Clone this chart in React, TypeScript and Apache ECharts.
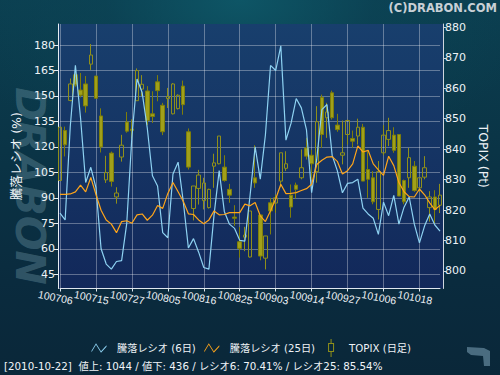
import React, { useEffect, useRef } from 'react';
import * as echarts from 'echarts';

const FONT = "'DejaVu Sans', 'Noto Sans CJK JP', sans-serif";

const dates = ['100706','100707','100708','100709','100712','100713','100714','100715','100716','100720','100721','100722','100723','100726','100727','100728','100729','100730','100802','100803','100804','100805','100806','100809','100810','100811','100812','100813','100816','100817','100818','100819','100820','100823','100824','100825','100826','100827','100830','100831','100901','100902','100903','100906','100907','100908','100909','100910','100913','100914','100915','100916','100917','100921','100922','100924','100927','100928','100929','100930','101001','101004','101005','101006','101007','101008','101012','101013','101014','101015','101018','101019','101020','101021','101022'];

const ratio6 = [81, 77, 132, 168, 137, 99, 108, 96, 60, 51, 48, 52.5, 53, 75, 126, 160, 152, 131, 103, 97, 69.5, 66.5, 104, 111, 88, 60.5, 66, 58, 49, 48, 80, 106, 82, 74.5, 72, 65, 64.5, 91, 120, 101, 127, 168, 165, 179.5, 124, 134, 148.5, 143, 130, 93, 113, 142, 145, 115, 106, 93, 98.5, 99, 101, 84, 80.5, 78, 68.5, 87.5, 79.5, 91.5, 74.5, 84.5, 90.5, 74.5, 63.5, 73.5, 80.5, 74, 70.41];

const ratio25 = [92, 92, 92.3, 93.5, 97.5, 93.5, 102, 92, 82.7, 77, 74.5, 69.5, 76, 76.5, 75, 80, 80.5, 76.8, 79.8, 85.5, 83.8, 92.6, 99, 93.6, 88, 80.6, 80.2, 77, 74.7, 77, 82.3, 80, 80.2, 81.3, 81.3, 81.3, 86.3, 85.3, 87.3, 79.4, 76, 82.4, 89.3, 98, 92.5, 92.6, 93.1, 94.3, 95.4, 98, 109.6, 112.1, 114, 114.3, 111.5, 104, 106, 110, 120.6, 117, 118, 110, 106.5, 103.2, 114.5, 109, 99, 93.6, 90.7, 90.5, 95.2, 91.8, 87, 83, 85.54];

const topixOpen = [829.7, 846.1, 856.0, 864.4, 859.4, 861.4, 867.9, 864.0, 850.9, 829.9, 838.7, 824.3, 837.4, 848.9, 846.6, 855.9, 859.7, 859.1, 851.6, 862.1, 854.4, 856.6, 851.6, 853.3, 860.7, 845.7, 820.5, 827.1, 823.1, 820.8, 834.4, 835.2, 834.1, 826.8, 817.7, 809.6, 811.1, 804.6, 830.6, 818.4, 804.2, 822.4, 822.3, 829.5, 833.7, 824.9, 828.2, 830.6, 840.4, 838.0, 832.6, 857.0, 850.3, 858.5, 847.9, 838.0, 844.8, 843.5, 844.3, 847.2, 833.3, 830.6, 820.2, 838.8, 843.2, 844.6, 844.8, 829.7, 830.6, 834.4, 827.3, 830.8, 820.8, 824.3, 821.6];
const topixClose = [847.2, 841.4, 861.4, 861.1, 857.7, 854.2, 870.9, 856.7, 840.7, 832.3, 829.4, 825.6, 841.3, 845.9, 846.1, 865.8, 861.3, 849.4, 850.7, 859.2, 845.7, 857.3, 861.4, 857.7, 854.6, 834.1, 827.9, 831.5, 828.9, 826.8, 835.5, 844.3, 829.7, 824.9, 817.3, 807.4, 811.8, 819.7, 828.9, 804.9, 811.5, 819.7, 824.0, 838.8, 835.2, 821.0, 826.8, 833.9, 837.7, 835.2, 849.0, 844.8, 852.2, 850.3, 846.4, 838.8, 849.4, 842.6, 847.2, 829.5, 830.1, 822.7, 832.6, 844.6, 846.1, 839.6, 824.6, 822.7, 837.2, 826.4, 830.6, 833.9, 824.3, 820.2, 824.9];
const topixLow = [829.7, 837.6, 855.7, 860.5, 857.0, 852.0, 866.0, 856.7, 838.9, 828.9, 827.7, 822.1, 835.9, 845.4, 843.5, 855.9, 857.4, 847.9, 848.6, 855.7, 844.6, 853.5, 851.4, 853.0, 851.3, 833.3, 816.6, 821.8, 820.2, 820.5, 827.3, 835.0, 829.3, 822.4, 814.8, 804.4, 806.5, 804.4, 827.3, 803.5, 800.5, 812.0, 819.1, 827.5, 832.8, 817.5, 823.8, 830.1, 836.6, 830.0, 829.0, 840.4, 843.7, 849.7, 845.7, 835.0, 841.5, 840.4, 841.5, 829.5, 824.0, 821.9, 816.9, 838.0, 841.0, 838.8, 824.6, 821.9, 827.3, 826.0, 826.0, 830.1, 816.2, 815.5, 819.0];
const topixHigh = [847.2, 847.4, 863.2, 866.1, 865.0, 864.0, 874.5, 864.0, 853.4, 837.8, 839.2, 827.5, 844.7, 852.2, 849.8, 866.5, 864.3, 860.7, 859.0, 864.3, 855.2, 860.1, 861.7, 858.0, 862.5, 846.8, 827.9, 833.2, 830.6, 827.0, 838.5, 844.3, 838.0, 828.6, 821.6, 814.4, 814.5, 819.7, 841.3, 818.4, 811.5, 824.0, 825.1, 838.8, 839.3, 828.4, 829.0, 839.9, 843.7, 839.8, 854.1, 857.9, 855.2, 859.2, 851.6, 849.4, 849.7, 846.1, 850.0, 848.3, 839.3, 832.8, 836.1, 847.9, 850.3, 847.2, 844.8, 830.0, 840.4, 836.1, 830.6, 837.7, 826.2, 826.5, 828.6];

const leftTicks = [45, 60, 75, 90, 105, 120, 135, 150, 165, 180];
const rightTicks = [800, 810, 820, 830, 840, 850, 860, 870, 880];

const seriesNames = ['騰落レシオ (6日)', '騰落レシオ (25日)', 'TOPIX (日足)'];
const statusText = '[2010-10-22]  値上: 1044 / 値下: 436 / レシオ6: 70.41% / レシオ25: 85.54%';

const BLUE = '#8ed2f2';
const ORANGE = '#ffa51a';
const OLIVE_UP = '#8f8f1a';
const OLIVE_DOWN = '#a0a01a';
const OLIVE_DOWN_BORDER = '#7e7e0a';
const TXT = '#eef2f6';
const GRIDLINE = 'rgba(255,255,255,0.33)';

const ZIG = 'path://M0,0L0.01,0Z M20,18L19.99,18Z M2.5,11.7L7,4.2L12,12.2L17.5,6.2L17.5,7.8L12,13.8L7,5.8L2.5,13.3Z';
const CANDLE = 'path://M0,0L0.01,0Z M20,18L19.99,18Z M9.5,0H10.5V4.5H9.5Z M9.5,12.5H10.5V18H9.5Z M7,4H13V5H7Z M7,12H13V13H7Z M7,4H8V13H7Z M12,4H13V13H12Z';

export default function App() {
  const ref = useRef<HTMLDivElement>(null);
  useEffect(() => {
    const chart = echarts.init(ref.current!, null, { renderer: 'svg', width: 500, height: 375 });
    const candles = dates.map((_, i) => [topixOpen[i], topixClose[i], topixLow[i], topixHigh[i]]);
    const option: any = {
      animation: false,
      textStyle: { fontFamily: FONT },
      grid: { left: 60, right: 60, top: 24, bottom: 86.5, containLabel: false, outerBoundsMode: 'none' },
      legend: {
        top: 334,
        left: 'center',
        itemWidth: 20,
        itemHeight: 18,
        itemGap: 6,
        textStyle: { color: TXT, fontSize: 10.2, fontFamily: FONT, padding: [0, 0, 0, 3] },
        data: [
          { name: seriesNames[0], icon: ZIG, itemStyle: { color: BLUE, borderWidth: 0 } },
          { name: seriesNames[1], icon: ZIG, itemStyle: { color: ORANGE, borderWidth: 0 } },
          { name: seriesNames[2], icon: CANDLE, itemStyle: { color: OLIVE_UP, borderWidth: 0, borderColor: 'transparent' } },
        ],
      },
      xAxis: {
        type: 'category',
        data: dates,
        boundaryGap: false,
        axisLine: { show: true, lineStyle: { color: '#dfe6ee', width: 1 } },
        axisTick: { show: true, interval: 6, length: 3, lineStyle: { color: '#dfe6ee' } },
        axisLabel: {
          interval: 6, rotate: -11, align: 'center', verticalAlign: 'top', margin: 4,
          color: TXT, fontSize: 10.5, fontFamily: "'Liberation Sans', sans-serif", padding: [0, 7, 0, 0],
        },
        splitLine: { show: true, interval: 6, lineStyle: { color: GRIDLINE, width: 1 } },
      },
      yAxis: [
        {
          type: 'value', position: 'left', min: 36.6, max: 192.4, offset: 2,
          name: '騰落レシオ (%)', nameLocation: 'middle', nameRotate: 90, nameGap: 31,
          nameTextStyle: { color: TXT, fontSize: 12.5, fontFamily: FONT },
          axisLine: { show: true, lineStyle: { color: '#e6ecf2' } },
          axisTick: { show: true, length: 4, customValues: leftTicks, lineStyle: { color: '#e6ecf2' } },
          axisLabel: { customValues: leftTicks, color: TXT, fontSize: 11, margin: 3, fontFamily: FONT },
          splitLine: { show: true, lineStyle: { color: GRIDLINE, width: 1 } },
        },
        {
          type: 'value', position: 'right', min: 794.25, max: 881.08, offset: 3,
          name: 'TOPIX (Pt)', nameLocation: 'middle', nameRotate: -90, nameGap: 32,
          nameTextStyle: { color: TXT, fontSize: 12.5, fontFamily: FONT },
          axisLine: { show: true, lineStyle: { color: '#cfd6de' } },
          axisTick: { show: true, length: 3, customValues: rightTicks, lineStyle: { color: '#cfd6de' } },
          axisLabel: { customValues: rightTicks, color: TXT, fontSize: 11, margin: 2, fontFamily: FONT },
          splitLine: { show: false },
        },
      ],
      graphic: [
        {
          type: 'rect', z: -10, silent: true,
          shape: { x: 58, y: 24, width: 385, height: 264.5 },
          style: {
            fill: new echarts.graphic.LinearGradient(0, 0, 0, 1, [
              { offset: 0, color: '#183f6d' },
              { offset: 1, color: '#12285a' },
            ]),
          },
        },
        {
          type: 'text', x: 30, y: 186, rotation: -Math.PI / 2, z: -5, silent: true,
          style: { text: 'DRABON', font: 'italic bold 41px "DejaVu Sans"', fill: 'rgba(120,160,175,0.36)', align: 'center', verticalAlign: 'middle' },
        },
        {
          type: 'text', x: 497, y: 8,
          style: { text: '(C)DRABON.COM', font: 'bold 11.5px "DejaVu Sans"', fill: '#c8d0d6', align: 'right', verticalAlign: 'middle' },
        },
        {
          type: 'text', x: 4, y: 366,
          style: { text: statusText, fontSize: 10.3, fontFamily: FONT, fill: '#f0f4f8', align: 'left', verticalAlign: 'middle' },
        },
        {
          type: 'polygon',
          shape: { points: [[467, 347], [484, 348], [490, 351], [490, 366], [484, 366], [483, 356], [471, 355], [467, 352]] },
          style: { fill: '#4a6c80' },
        },
      ],
      series: [
        {
          name: seriesNames[2], type: 'candlestick', yAxisIndex: 1, data: candles, barWidth: 4, clip: false,
          itemStyle: { color: 'transparent', color0: OLIVE_DOWN, borderColor: OLIVE_UP, borderColor0: OLIVE_DOWN_BORDER, borderWidth: 1 },
          z: 2,
        },
        {
          name: seriesNames[0], type: 'line', yAxisIndex: 0, data: ratio6, symbol: 'none',
          lineStyle: { color: BLUE, width: 1.2 }, itemStyle: { color: BLUE }, z: 3,
        },
        {
          name: seriesNames[1], type: 'line', yAxisIndex: 0, data: ratio25, symbol: 'none',
          lineStyle: { color: ORANGE, width: 1.2 }, itemStyle: { color: ORANGE }, z: 4,
        },
      ],
    };
    chart.setOption(option);
    return () => chart.dispose();
  }, []);
  return (
    <div
      ref={ref}
      style={{
        position: 'fixed', left: 0, top: 0, width: 500, height: 375,
        background:
          'radial-gradient(ellipse 60% 45% at 48% 0%, rgba(14,88,104,0.9) 0%, rgba(12,70,88,0.5) 45%, rgba(11,68,86,0) 100%), linear-gradient(180deg, #0b3f50 0%, #0a3446 40%, #0a2b3e 75%, #0a2739 100%)',
      }}
    />
  );
}
